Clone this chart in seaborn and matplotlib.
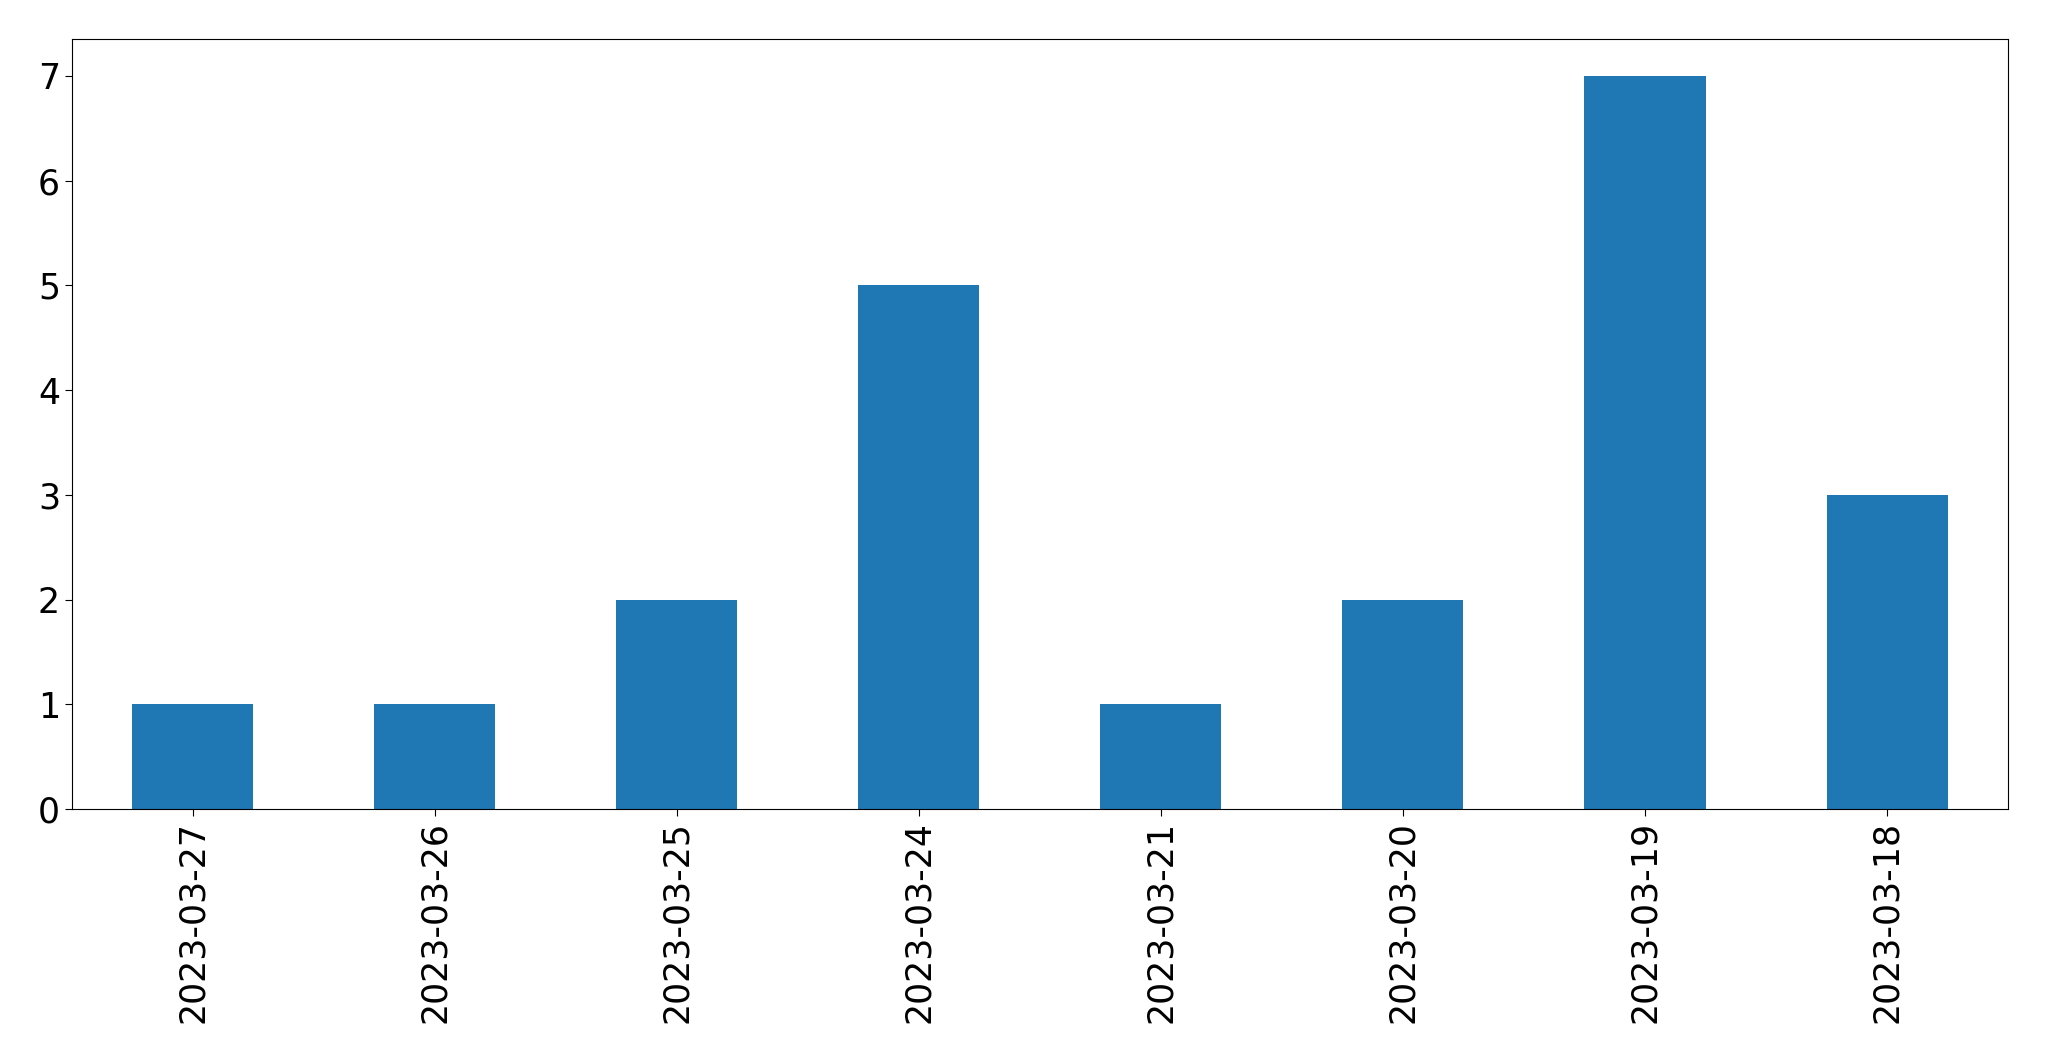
import matplotlib
matplotlib.use("Agg")
import matplotlib.pyplot as plt
import seaborn as sns
import pandas as pd

dates = ["2023-03-27", "2023-03-26", "2023-03-25", "2023-03-24",
         "2023-03-21", "2023-03-20", "2023-03-19", "2023-03-18"]
counts = [1, 1, 2, 5, 1, 2, 7, 3]

df = pd.DataFrame({"date": dates, "count": counts})

fig, ax = plt.subplots(figsize=(20.49, 10.61), dpi=100)
sns.barplot(data=df, x="date", y="count", order=dates, color="#1f77b4",
            saturation=1, width=0.5, ax=ax)
ax.set_xlim(-0.5, len(dates) - 0.5)
ax.set_ylim(0, 7.35)
ax.set_xlabel("")
ax.set_ylabel("")
ax.tick_params(axis="both", labelsize=25, length=5)
ax.tick_params(axis="x", labelrotation=90)
fig.subplots_adjust(left=0.0351, right=0.980, top=0.963, bottom=0.2375)
fig.savefig("out.png", dpi=100)
